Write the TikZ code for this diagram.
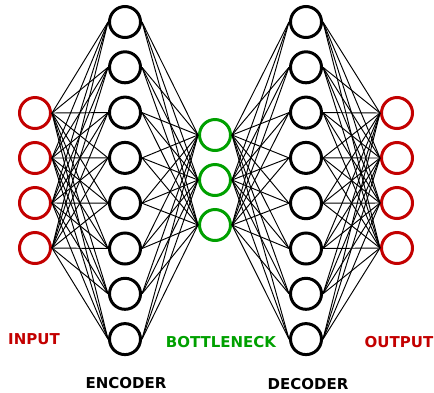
\documentclass[tikz,border=0pt]{standalone}
\usepackage{fontspec}
\setmainfont{DejaVu Sans}
\definecolor{nnred}{RGB}{195,0,0}
\definecolor{nngreen}{RGB}{0,160,0}
\begin{document}
\begin{tikzpicture}[x=1pt,y=-1pt,
  neuron/.style={circle,draw,line width=3pt,minimum size=31pt,inner sep=0pt,fill=white},
  inneuron/.style={neuron,draw=nnred},
  hidneuron/.style={neuron,draw=black},
  bneuron/.style={neuron,draw=nngreen},
  link/.style={draw=black,line width=0.95pt},
  lbl/.style={font=\bfseries\fontsize{15}{15}\selectfont,inner sep=0pt}]
\useasboundingbox (0,0) rectangle (434,392);
% nodes (named, used as connector ends)
\foreach \i/\y in {1/113,2/158,3/203,4/248} {
  \node[inneuron] (in\i) at (35,\y) {};
  \node[inneuron] (out\i) at (397,\y) {};
}
\foreach \i in {1,...,8} {
  \node[hidneuron] (enc\i) at (125,{22+(\i-1)*45.3}) {};
  \node[hidneuron] (dec\i) at (306,{22+(\i-1)*45.3}) {};
}
\foreach \i/\y in {1/135,2/180,3/225} {
  \node[bneuron] (bn\i) at (215,\y) {};
}
% connections
\foreach \a in {1,...,4} \foreach \b in {1,...,8} \draw[link] (in\a.east) -- (enc\b.west);
\foreach \a in {1,...,8} \foreach \b in {1,...,3} \draw[link] (enc\a.east) -- (bn\b.west);
\foreach \a in {1,...,3} \foreach \b in {1,...,8} \draw[link] (bn\a.east) -- (dec\b.west);
\foreach \a in {1,...,8} \foreach \b in {1,...,4} \draw[link] (dec\a.east) -- (out\b.west);
% labels
\node[lbl,text=nnred] (linput) at (34,339) {INPUT};
\node[lbl,text=nngreen] (lbottle) at (221,342) {BOTTLENECK};
\node[lbl,text=nnred] (loutput) at (399,342) {OUTPUT};
\node[lbl] (lenc) at (126,383) {ENCODER};
\node[lbl] (ldec) at (308,384) {DECODER};
\end{tikzpicture}
\end{document}
